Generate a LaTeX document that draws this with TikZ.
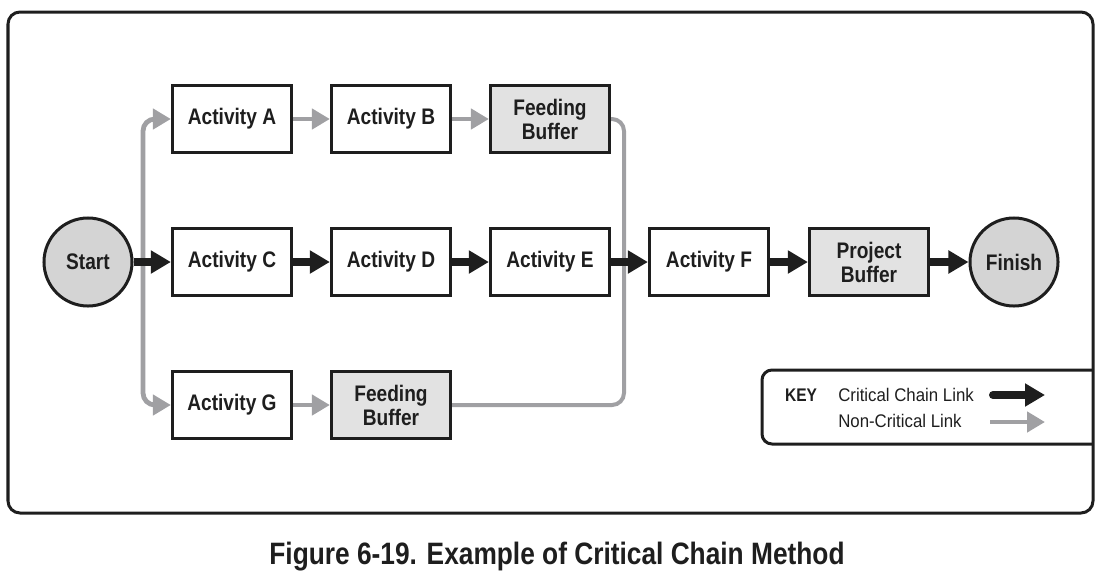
\documentclass[tikz,border=0pt]{standalone}
\usepackage{fontspec}
\setmainfont{Liberation Sans}[FakeStretch=0.85]
\newfontfamily\keyfont{Liberation Sans}[FakeStretch=0.92]
\usepackage{tikz}
\usetikzlibrary{positioning}
\usetikzlibrary{arrows.meta}

\definecolor{critico}{RGB}{30,30,30}
\definecolor{nocritico}{RGB}{160,160,163}
\definecolor{relleno}{RGB}{226,226,226}
\definecolor{circulo}{RGB}{212,212,212}

\begin{document}
\begin{tikzpicture}[x=0.025cm, y=-0.025cm,
    actividad/.style={draw=critico, line width=0.075cm, fill=white, minimum width=2.98cm, minimum height=1.68cm, align=center, text=critico, font=\bfseries\fontsize{16}{17}\selectfont},
    colchon/.style={actividad, fill=relleno},
    evento/.style={circle, draw=critico, line width=0.075cm, fill=circulo, minimum size=2.2cm, inner sep=0pt, text=critico, font=\bfseries\fontsize{16}{17}\selectfont},
    enlace/.style={draw=critico, line width=0.2cm, -{Triangle[length=0.5cm,width=0.55cm]}},
    alimenta/.style={draw=nocritico, line width=0.12cm, -{Triangle[length=0.45cm,width=0.5cm]}},
    ruta/.style={draw=nocritico, line width=0.1cm, rounded corners=0.3cm}]
  \useasboundingbox (0,0) rectangle (1111,581);

  \draw[line width=0.075cm, draw=critico, rounded corners=0.3cm] (8,12) rectangle (1093,513); % Marco

  % Nodos
  \node[evento] (start) at (88,262) {Start};
  \node[actividad] (A) at (232,119) {Activity A};
  \node[actividad] (B) at (391,119) {Activity B};
  \node[colchon] (fb1) at (550,119) {Feeding\\Buffer};
  \node[actividad] (C) at (232,262) {Activity C};
  \node[actividad] (D) at (391,262) {Activity D};
  \node[actividad] (E) at (550,262) {Activity E};
  \node[actividad] (F) at (709,262) {Activity F};
  \node[colchon] (pb) at (869,262) {Project\\Buffer};
  \node[evento] (finish) at (1014,262) {Finish};
  \node[actividad] (G) at (232,405) {Activity G};
  \node[colchon] (fb2) at (391,405) {Feeding\\Buffer};

  \coordinate (split) at (143,262);
  \coordinate (merge) at (624,262);

  % Enlaces no criticos
  \draw[ruta] (fb1.east) -| (merge) |- (fb2.east); % Union de colchones
  \draw[alimenta, rounded corners=0.3cm] (split) |- (A.west);
  \draw[alimenta, rounded corners=0.3cm] (split) |- (G.west);
  \draw[alimenta] (A) -- (B);
  \draw[alimenta] (B) -- (fb1);
  \draw[alimenta] (G) -- (fb2);

  % Cadena critica
  \draw[enlace] (start) -- (C);
  \draw[enlace] (C) -- (D);
  \draw[enlace] (D) -- (E);
  \draw[enlace] (E) -- (F);
  \draw[enlace] (F) -- (pb);
  \draw[enlace] (pb) -- (finish);

  % Leyenda
  \draw[line width=0.075cm, draw=critico, rounded corners=0.25cm] (1093,370) -- (762,370) -- (762,444) -- (1093,444);
  \node[text=critico, font=\bfseries\fontsize{13}{13}\selectfont] (key) at (801,395) {KEY};
  \node[anchor=west, inner sep=0pt, text=critico, font=\keyfont\fontsize{13}{13}\selectfont] (lcrit) at (838,395) {Critical Chain Link};
  \node[anchor=west, inner sep=0pt, text=critico, font=\keyfont\fontsize{13}{13}\selectfont] (lnocrit) at (838,421) {Non-Critical Link};
  \coordinate (kc1) at (993,395);
  \coordinate (kc2) at (1045,395);
  \coordinate (kn1) at (990,422);
  \coordinate (kn2) at (1045,422);
  \draw[enlace, line cap=round] (kc1) -- (kc2);
  \draw[alimenta] (kn1) -- (kn2);

  \node[text=critico, font=\bfseries\fontsize{22}{22}\selectfont] (titulo) at (557,557) {Figure 6-19. Example of Critical Chain Method};
\end{tikzpicture}
\end{document}
